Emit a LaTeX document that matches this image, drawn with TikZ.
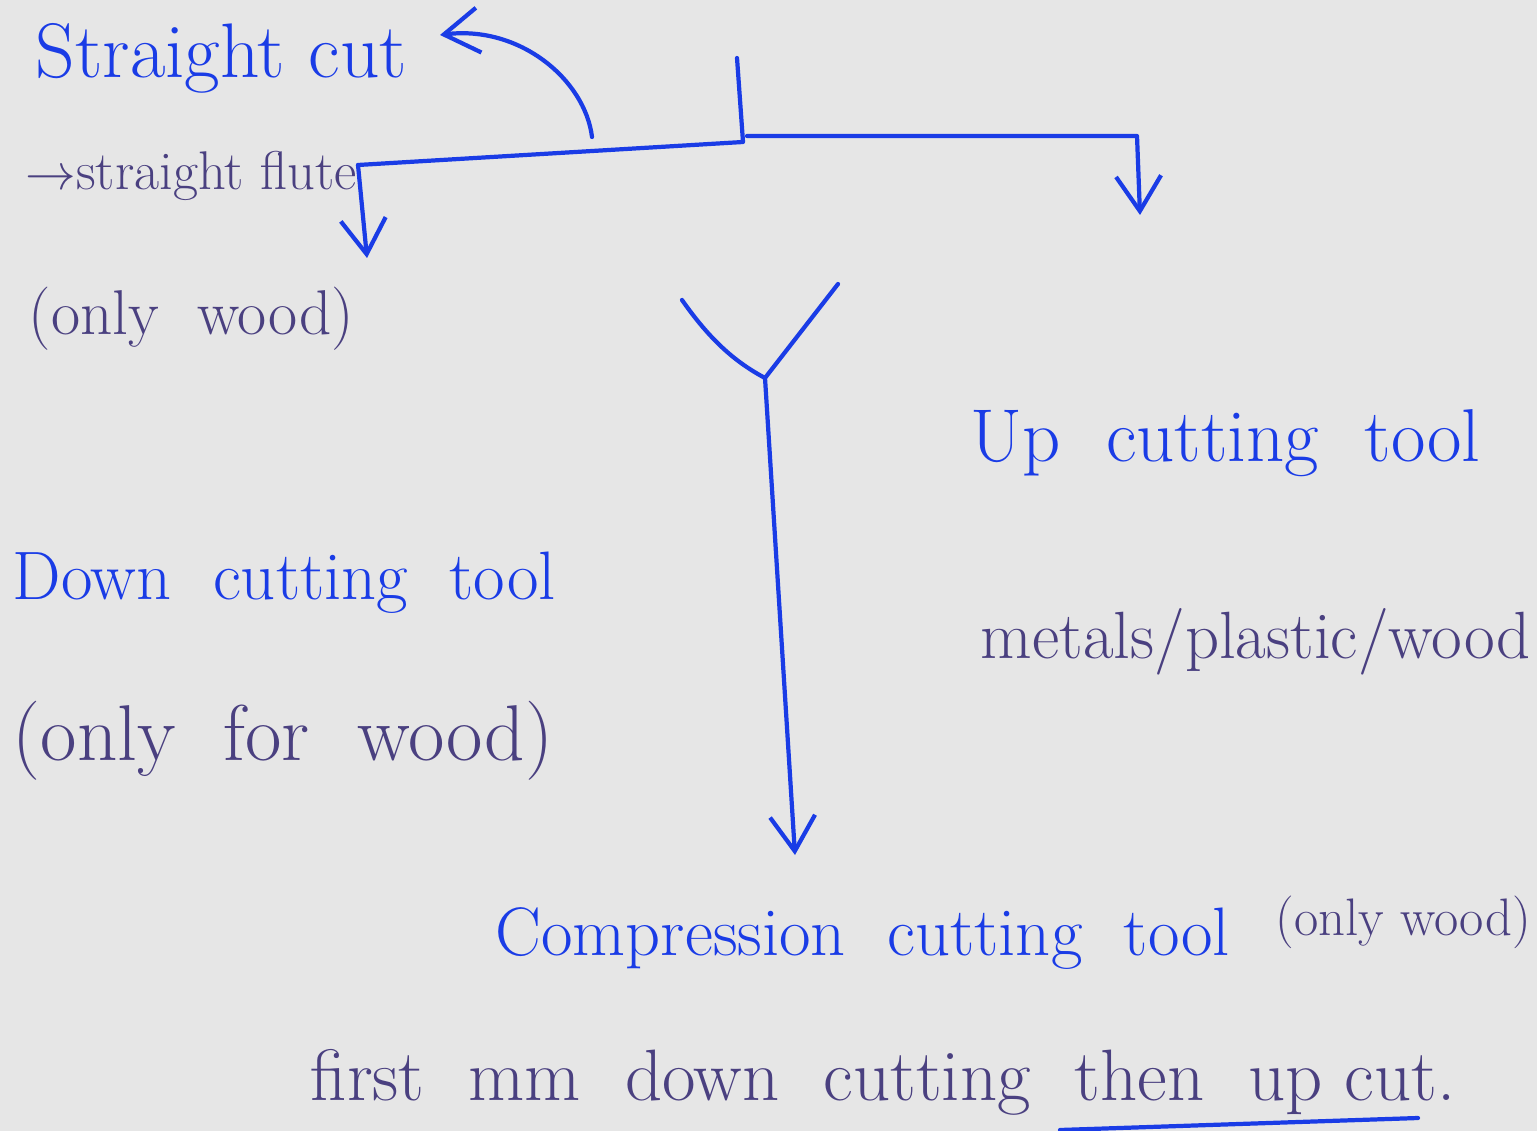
\documentclass[tikz,border=0pt]{standalone}
\usetikzlibrary{arrows.meta}
\definecolor{penblue}{HTML}{1A3CE6}
\definecolor{penpurple}{HTML}{4A4080}
\definecolor{paper}{HTML}{E6E6E6}

\begin{document}
\begin{tikzpicture}[x=0.01cm,y=-0.01cm]
    \tikzset{BlueInk/.style={text=penblue, inner sep=0pt, anchor=base west}}
    \tikzset{PurpleInk/.style={text=penpurple, inner sep=0pt, anchor=base west}}
    \tikzset{Pen/.style={draw=penblue, line width=1.2pt, line cap=round, line join=round}}
    \tikzset{PenArrow/.style={Pen, -{Straight Barb[length=3.5mm, width=4.5mm]}}}

    \fill[paper] (0,0) rectangle (1537,1131);
    \useasboundingbox (0,0) rectangle (1537,1131);

    \node[BlueInk, font=\fontsize{22}{26}\selectfont] (straightcut) at (35,78) {Straight cut};
    \node[PurpleInk, font=\fontsize{15.5}{18}\selectfont] (flute) at (25,190) {$\rightarrow$straight flute};
    \node[PurpleInk, font=\fontsize{18}{22}\selectfont] (onlywoodA) at (28,335) {(only\ \ wood)};

    \node[BlueInk, font=\fontsize{19.5}{23}\selectfont] (down) at (12,600) {Down\ \ cutting\ \ tool};
    \node[PurpleInk, font=\fontsize{22.5}{27}\selectfont] (onlyfor) at (12,760) {(only\ \ for\ \ wood)};

    \node[BlueInk, font=\fontsize{21.3}{25}\selectfont] (up) at (970,462) {Up\ \ cutting\ \ tool};
    \node[PurpleInk, font=\fontsize{19}{23}\selectfont] (metals) at (980,658) {metals/plastic/wood};

    \node[BlueInk, font=\fontsize{19.5}{23}\selectfont] (compression) at (495,955) {Compression\ \ cutting\ \ tool};
    \node[PurpleInk, font=\fontsize{15}{18}\selectfont] (onlywoodB) at (1275,935) {(only wood)};
    \node[PurpleInk, font=\fontsize{20.7}{25}\selectfont] (first) at (310,1100) {first\ \ mm\ \ down\ \ cutting\ \ then\ \ up\ cut.};

    \coordinate (tick) at (737,58);
    \coordinate (knee) at (743,142);
    \coordinate (flutejoin) at (358,165);
    \coordinate (flutetip) at (367,258);
    \coordinate (curvestart) at (592,137);
    \coordinate (cuttip) at (440,35);
    \coordinate (upstart) at (747,136);
    \coordinate (upknee) at (1137,136);
    \coordinate (uptip) at (1140,215);
    \coordinate (yleft) at (682,300);
    \coordinate (yright) at (838,284);
    \coordinate (yjoin) at (765,378);
    \coordinate (ytip) at (795,855);
    \coordinate (lineA) at (1060,1130);
    \coordinate (lineB) at (1418,1118);

    \draw[Pen] (tick) -- (knee) -- (flutejoin);
    \draw[PenArrow] (flutejoin) -- (flutetip);
    \draw[PenArrow] (curvestart) .. controls (585,80) and (520,25) .. (cuttip);
    \draw[PenArrow] (upstart) -- (upknee) -- (uptip);
    \draw[Pen] (yleft) .. controls (710,340) and (735,362) .. (yjoin);
    \draw[Pen] (yright) -- (yjoin);
    \draw[PenArrow] (yjoin) -- (ytip);
    \draw[Pen] (lineA) -- (lineB);
\end{tikzpicture}
\end{document}
